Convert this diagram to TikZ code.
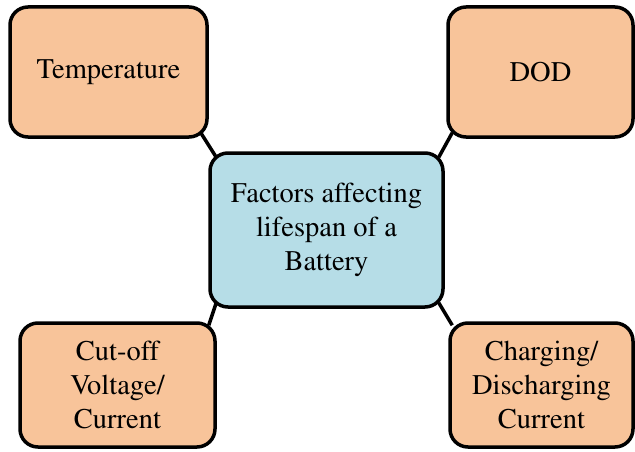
\documentclass[tikz,border=0pt]{standalone}
\usepackage[T1]{fontenc}
\renewcommand\rmdefault{ptm}
\usetikzlibrary{calc,backgrounds}
\definecolor{factorfill}{RGB}{248,196,154}
\definecolor{corefill}{RGB}{182,221,231}
\begin{document}
\begin{tikzpicture}[x=1pt,y=-1pt,
  box/.style={draw=black, line width=3.5pt, rounded corners=18pt, align=center,
    font=\rmfamily\fontsize{28.5}{34}\selectfont, inner sep=0pt},
  factor/.style={box, fill=factorfill},
  core/.style={box, fill=corefill},
  link/.style={draw=black, line width=3.5pt}]
\useasboundingbox (0,0) rectangle (635,452);

% central node
\node[core, minimum width=233pt, minimum height=154pt] (core) at (326.5,230)
  {Factors affecting\\lifespan of a\\Battery};

% surrounding factors
\node[factor, minimum width=197pt, minimum height=130pt] (temp) at (108.5,72) {Temperature};
\node[factor, minimum width=185pt, minimum height=130pt] (dod) at (540.5,72) {DOD};
\node[factor, minimum width=195pt, minimum height=124pt] (cutoff) at (117.5,385)
  {Cut-off\\Voltage/\\Current};
\node[factor, minimum width=183pt, minimum height=124pt] (charge) at (541.5,385)
  {Charging/\\Discharging\\Current};

% corner-to-corner links, kept behind the boxes
\begin{pgfonlayer}{background}
\draw[link] ($(temp.south east)+(-8,-6)$) -- ($(core.north west)+(8,6)$);
\draw[link] ($(dod.south west)+(6,-6)$) -- ($(core.north east)+(-6,6)$);
\draw[link] ($(core.south west)+(8,-6)$) -- ($(cutoff.north east)+(-8,4)$);
\draw[link] ($(core.south east)+(-6,-6)$) -- ($(charge.north west)+(4,4)$);
\end{pgfonlayer}
\end{tikzpicture}
\end{document}
